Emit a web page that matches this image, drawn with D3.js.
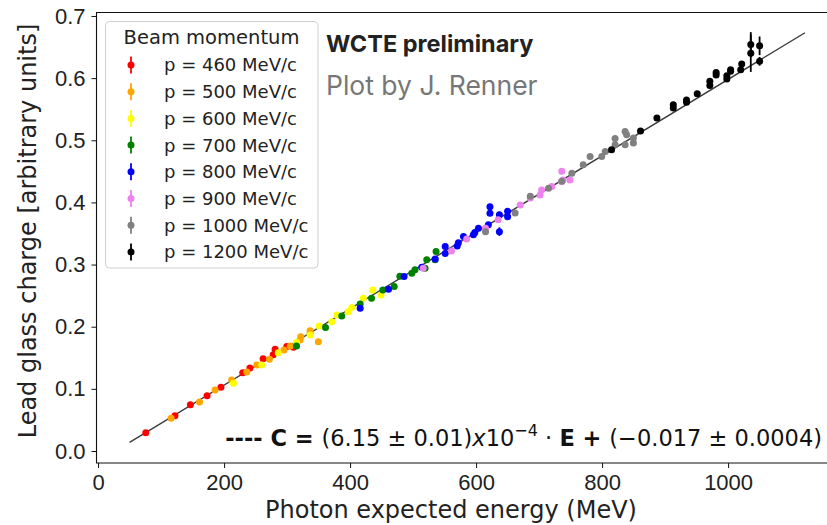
<!DOCTYPE html>
<html lang="en">
<head>
<meta charset="UTF-8">
<title>Lead glass charge vs photon energy</title>
<script src="https://d3js.org/d3.v7.min.js"></script>
<style>
    body { margin: 0; background: #fff; }
    svg { display: block; font-family: "DejaVu Sans", sans-serif; }
    .tick text { font-size: 22px; fill: #222; }
    .axis-label { font-size: 24px; fill: #222; }
</style>
</head>
<body>
<svg width="827" height="525"></svg>
<script>
// points are [energy MeV, charge, error]
const p460 = [[75.7,0.0295,0.002],[122,0.0569,0.002],[146.5,0.0746,0.002],[173,0.089,0.002],[195,0.1025,0.002],
    [229.6,0.126,0.002],[241,0.1337,0.002],[262,0.1486,0.002],[278,0.155,0.002],[281,0.1637,0.002],[299.5,0.168,0.002],[310,0.167,0.002]];
const p500 = [[115.9,0.0526,0.002],[161,0.0789,0.002],[185.7,0.0982,0.002],[212,0.1143,0.002],[236,0.1272,0.002],
    [252,0.1385,0.002],[272,0.1476,0.002],[295,0.1626,0.002],[305,0.169,0.002],[320.6,0.1787,0.002],[321.7,0.184,0.002],
    [336.5,0.1895,0.002],[336.5,0.1937,0.002],[349.7,0.176,0.002]];
const p600 = [[214.8,0.109,0.002],[259.8,0.1385,0.002],[286,0.158,0.002],[315,0.1744,0.002],[336.5,0.1868,0.002],
    [351,0.2013,0.002],[371,0.208,0.002],[379,0.219,0.002],[397,0.224,0.002],[402.6,0.231,0.002],[421,0.246,0.002],
    [436,0.259,0.002],[449,0.251,0.002]];
const p700 = [[315,0.169,0.002],[361,0.1986,0.002],[386.8,0.2174,0.002],[416,0.2367,0.002],[434,0.246,0.002],
    [452,0.259,0.002],[470,0.2646,0.002],[479,0.281,0.002],[498,0.286,0.002],[503,0.2915,0.002],[519,0.294,0.002],
    [521.7,0.3076,0.002],[535,0.3076,0.002],[536.5,0.321,0.002]];
const p800 = [[416,0.2298,0.002],[461,0.2604,0.002],[485.7,0.2807,0.002],[513.8,0.2958,0.002],[535,0.309,0.002],
    [551,0.318,0.002],[551,0.329,0.002],[570,0.330,0.002],[571.9,0.335,0.002],[580,0.345,0.002],[595.7,0.348,0.002],
    [598,0.3516,0.002],[603.7,0.3586,0.002],[619.5,0.364,0.002],[622,0.393,0.005],[622,0.3827,0.003],[637,0.353,0.007],
    [637,0.38,0.005],[650,0.3856,0.003],[650,0.377,0.003]];
const p900 = [[516,0.294,0.002],[561,0.322,0.002],[585,0.341,0.002],[615,0.3586,0.002],[635,0.372,0.002],
    [670,0.396,0.002],[686,0.407,0.002],[701.6,0.412,0.002],[704,0.420,0.002],[720,0.4256,0.002],[736,0.4337,0.002],
    [736,0.45,0.002],[738,0.436,0.002],[749,0.436,0.002]];
const p1000 = [[615,0.353,0.002],[662,0.383,0.002],[686,0.41,0.002],[715,0.423,0.002],[736,0.434,0.002],
    [752,0.447,0.002],[770,0.4605,0.002],[781,0.474,0.002],[799.5,0.474,0.002],[805,0.482,0.002],[820.6,0.4928,0.002],
    [820.6,0.503,0.002],[836.5,0.4928,0.002],[836.5,0.514,0.002],[839,0.509,0.002],[849.7,0.4955,0.002],[849.7,0.5035,0.002]];
const p1200 = [[815,0.4847,0.002],[861,0.515,0.002],[887,0.5357,0.002],[913,0.552,0.002],[913,0.557,0.002],
    [934,0.561,0.002],[934,0.565,0.002],[951,0.575,0.002],[971,0.588,0.002],[971,0.595,0.002],[981,0.605,0.002],
    [981,0.609,0.002],[998,0.5985,0.002],[998,0.604,0.002],[1004,0.611,0.002],[1004,0.6135,0.002],[1020,0.6135,0.002],
    [1021.6,0.6227,0.003],[1036,0.640,0.03],[1036,0.654,0.02],[1050,0.652,0.015],[1050,0.627,0.007]];

const momenta = [460, 500, 600, 700, 800, 900, 1000, 1200];
const colors = ["red", "orange", "yellow", "green", "blue", "violet", "gray", "black"];
const seriesPoints = [p460, p500, p600, p700, p800, p900, p1000, p1200];

const xTicks = [0, 200, 400, 600, 800, 1000];
const yTicks = [0.0, 0.1, 0.2, 0.3, 0.4, 0.5, 0.6, 0.7];

const slope = 6.15e-4, intercept = -0.017;
const fitRange = [50, 1122];

const svg = d3.select("svg");

const x = d3.scaleLinear().domain([-2.5, 1160]).range([96.5, 828.9]);
const y = d3.scaleLinear().domain([-0.0193, 0.7056]).range([463, 12.5]);

// frame
svg.append("path")
    .attr("d", `M${x.range()[1]},${y.range()[1]} H${x.range()[0]} V${y.range()[0]} H${x.range()[1]}`)
    .attr("fill", "none").attr("stroke", "#111").attr("stroke-width", 1.1);

svg.append("g")
    .attr("transform", `translate(0,${y.range()[0]})`)
    .call(d3.axisBottom(x).tickValues(xTicks).tickSize(5).tickPadding(6).tickFormat(d3.format("d")))
    .call(g => g.select(".domain").remove())
    .call(g => g.selectAll(".tick line").attr("stroke", "#111"));

svg.append("g")
    .attr("transform", `translate(${x.range()[0]},0)`)
    .call(d3.axisLeft(y).tickValues(yTicks).tickSize(5).tickPadding(6).tickFormat(d3.format(".1f")))
    .call(g => g.select(".domain").remove())
    .call(g => g.selectAll(".tick line").attr("stroke", "#111"));

svg.append("text").attr("class", "axis-label")
    .attr("x", 451).attr("y", 518).attr("text-anchor", "middle")
    .text("Photon expected energy (MeV)");

svg.append("text").attr("class", "axis-label")
    .attr("transform", "translate(36,231) rotate(-90)").attr("text-anchor", "middle")
    .text("Lead glass charge [arbitrary units]");

// fit line
svg.append("line")
    .attr("x1", x(fitRange[0])).attr("y1", y(slope * fitRange[0] + intercept))
    .attr("x2", x(fitRange[1])).attr("y2", y(slope * fitRange[1] + intercept))
    .attr("stroke", "#3a3a3a").attr("stroke-width", 1.4);

// data
seriesPoints.forEach((pts, i) => {
    const g = svg.append("g");
    g.selectAll("line").data(pts).join("line")
        .attr("x1", d => x(d[0])).attr("x2", d => x(d[0]))
        .attr("y1", d => y(d[1] - d[2])).attr("y2", d => y(d[1] + d[2]))
        .attr("stroke", colors[i]).attr("stroke-width", 1.8);
    g.selectAll("circle").data(pts).join("circle")
        .attr("cx", d => x(d[0])).attr("cy", d => y(d[1])).attr("r", 3.5)
        .attr("fill", colors[i]);
});

// legend
const lg = svg.append("g");
lg.append("rect").attr("x", 105.5).attr("y", 21.5).attr("width", 212.5).attr("height", 246.5)
    .attr("rx", 4).attr("fill", "white").attr("fill-opacity", 0.8).attr("stroke", "#d0d0d0");
lg.append("text").attr("x", 211.5).attr("y", 44).attr("text-anchor", "middle")
    .attr("font-size", 19.5).attr("fill", "#222").text("Beam momentum");
momenta.forEach((m, i) => {
    const cy = 65 + i * 26.7;
    lg.append("line").attr("x1", 131).attr("x2", 131).attr("y1", cy - 8.5).attr("y2", cy + 8.5)
        .attr("stroke", colors[i]).attr("stroke-width", 1.8);
    lg.append("circle").attr("cx", 131).attr("cy", cy).attr("r", 3.5).attr("fill", colors[i]);
    lg.append("text").attr("x", 164).attr("y", cy).attr("dy", "0.36em")
        .attr("font-size", 18).attr("fill", "#222").text(`p = ${m} MeV/c`);
});

// labels
svg.append("text").attr("x", 326).attr("y", 52)
    .attr("font-family", "Inter, sans-serif").attr("font-weight", "bold").attr("font-size", 23.5)
    .attr("fill", "#222").text("WCTE preliminary");
svg.append("text").attr("x", 326).attr("y", 95)
    .attr("font-family", "Inter, sans-serif").attr("font-size", 26.5)
    .attr("fill", "#777").text("Plot by J. Renner");

// fit equation
const eq = svg.append("text").attr("x", 822).attr("y", 446).attr("text-anchor", "end")
    .attr("font-size", 22.5).attr("fill", "#111");
eq.append("tspan").attr("font-weight", "bold").text("---- C = ");
eq.append("tspan").text("(6.15 ± 0.01)");
eq.append("tspan").attr("font-style", "italic").text("x");
eq.append("tspan").text("10");
eq.append("tspan").attr("font-size", 16).attr("dy", -10).text("−4");
eq.append("tspan").attr("dy", 10).text(" · ");
eq.append("tspan").attr("font-weight", "bold").text("E + ");
eq.append("tspan").text("(−0.017 ± 0.0004)");
</script>
</body>
</html>
